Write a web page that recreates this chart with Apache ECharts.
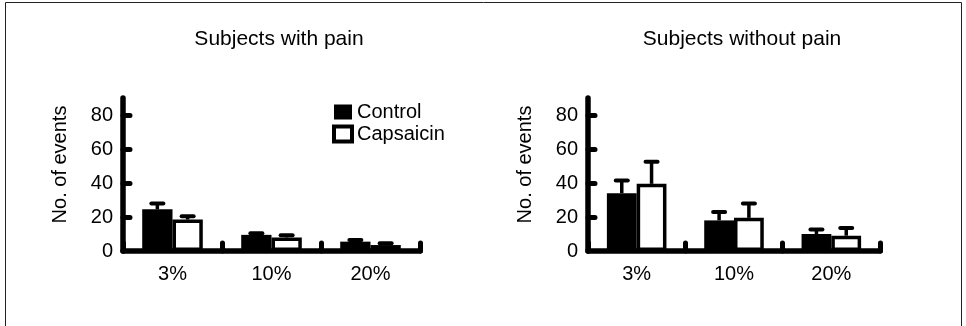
<!DOCTYPE html>
<html>
<head>
<meta charset="utf-8">
<script src="https://cdn.jsdelivr.net/npm/echarts@6/dist/echarts.min.js"></script>
<style>
  html, body { margin: 0; padding: 0; background: #fff; }
  #chart { width: 966px; height: 326px; }
</style>
</head>
<body>
<div id="chart"></div>
<script>
// Event counts by stimulus level, mean with upward SEM bars
const categories = ['3%', '10%', '20%'];
const panelTitles = ['Subjects with pain', 'Subjects without pain'];
const seriesNames = ['Control', 'Capsaicin'];
const yTickValues = [0, 20, 40, 60, 80];
const yMinorTicks = [20, 40, 60, 80];
const yAxisTitle = 'No. of events';

// Subjects with pain
const painControl = [24.5, 9.5, 5.5];
const painControlErr = [3.5, 1, 1];
const painCapsaicin = [18.5, 8, 3.5];
const painCapsaicinErr = [2, 1.2, 1];

// Subjects without pain
const noPainControl = [34, 18, 10];
const noPainControlErr = [7.5, 5, 2.7];
const noPainCapsaicin = [39.5, 19.5, 9];
const noPainCapsaicinErr = [13, 8.5, 4.5];

const FONT = 'Liberation Sans, Arial, Helvetica, sans-serif';
const INK = '#000';
const BAR_FRACTION = 0.306;   // each bar's share of a category band
const AXIS_W = 5.5;

const panels = [
  { title: panelTitles[0], control: painControl, controlErr: painControlErr,
    caps: painCapsaicin, capsErr: painCapsaicinErr,
    grid: { left: 123, top: 98, width: 297, height: 153 }, titleX: 279 },
  { title: panelTitles[1], control: noPainControl, controlErr: noPainControlErr,
    caps: noPainCapsaicin, capsErr: noPainCapsaicinErr,
    grid: { left: 588, top: 98, width: 292, height: 153 }, titleX: 742 }
];

function errorBarSeries(idx, means, errs, side, name) {
  return {
    type: 'custom',
    name: name + ' SEM',
    xAxisIndex: idx,
    yAxisIndex: idx,
    z: 3,
    silent: true,
    data: means.map((m, i) => [i, m, m + errs[i]]),
    encode: { x: 0, y: [1, 2] },
    renderItem(params, api) {
      const base = api.coord([api.value(0), api.value(1)]);
      const top = api.coord([api.value(0), api.value(2)]);
      const band = api.size([1, 0])[0];
      const x = base[0] + side * band * BAR_FRACTION / 2;
      return {
        type: 'group',
        children: [
          { type: 'line', shape: { x1: x, y1: base[1], x2: x, y2: top[1] },
            style: { stroke: INK, lineWidth: 3.5 } },
          { type: 'line', shape: { x1: x - 6, y1: top[1], x2: x + 6, y2: top[1] },
            style: { stroke: INK, lineWidth: 4, lineCap: 'round' } }
        ]
      };
    }
  };
}

const grids = [], xAxes = [], yAxes = [], series = [], graphics = [];

panels.forEach((p, idx) => {
  grids.push(Object.assign({ containLabel: false }, p.grid));
  xAxes.push({
    type: 'category',
    gridIndex: idx,
    data: categories,
    boundaryGap: true,
    z: 4,
    axisLine: { lineStyle: { color: INK, width: AXIS_W, cap: 'round' } },
    axisTick: { show: true, interval: 0, inside: true, length: 8, alignWithLabel: false,
      lineStyle: { color: INK, width: 5, cap: 'round' } },
    axisLabel: { color: INK, fontSize: 20, fontFamily: FONT, margin: 13, interval: 0 },
    splitLine: { show: false }
  });
  yAxes.push({
    type: 'value',
    gridIndex: idx,
    min: 0,
    max: 90,
    interval: 20,
    z: 4,
    name: yAxisTitle,
    nameLocation: 'middle',
    nameGap: 53,
    nameTextStyle: { color: INK, fontSize: 20, fontFamily: FONT, padding: [0, 0, 0, 20] },
    axisLine: { show: true, lineStyle: { color: INK, width: AXIS_W, cap: 'round' } },
    axisTick: { show: true, inside: true, length: 7, customValues: yMinorTicks,
      lineStyle: { color: INK, width: 5, cap: 'round' } },
    axisLabel: { color: INK, fontSize: 20, fontFamily: FONT, margin: 10, customValues: yTickValues },
    splitLine: { show: false }
  });
  series.push({
    type: 'bar',
    name: seriesNames[0],
    xAxisIndex: idx,
    yAxisIndex: idx,
    data: p.control,
    barWidth: (BAR_FRACTION * 100) + '%',
    barGap: '0%',
    itemStyle: { color: INK },
    z: 2
  });
  series.push({
    type: 'bar',
    name: seriesNames[1],
    xAxisIndex: idx,
    yAxisIndex: idx,
    data: p.caps,
    barWidth: (BAR_FRACTION * 100) + '%',
    barGap: '0%',
    itemStyle: { color: '#fff', borderColor: INK, borderWidth: 3.5 },
    z: 2
  });
  series.push(errorBarSeries(idx, p.control, p.controlErr, -1, seriesNames[0]));
  series.push(errorBarSeries(idx, p.caps, p.capsErr, 1, seriesNames[1]));
  graphics.push({
    type: 'text',
    x: p.titleX,
    y: 29,
    style: { text: p.title, fill: INK, font: '21px ' + FONT, align: 'center', verticalAlign: 'top' }
  });
});

// thin frame around the figure
graphics.push({
  type: 'rect',
  z: -1,
  shape: { x: 5.5, y: 2.5, width: 956, height: 400 },
  style: { fill: 'none', stroke: '#222', lineWidth: 1 }
});

const chart = echarts.init(document.getElementById('chart'), null, { renderer: 'canvas' });
chart.setOption({
  animation: false,
  backgroundColor: '#fff',
  grid: grids,
  xAxis: xAxes,
  yAxis: yAxes,
  legend: {
    orient: 'vertical',
    left: 332,
    top: 102,
    padding: 0,
    itemWidth: 18,
    itemHeight: 15,
    itemGap: 2,
    selectedMode: false,
    textStyle: { color: INK, fontSize: 20, fontFamily: FONT },
    data: [
      { name: seriesNames[0], icon: 'rect', itemStyle: { color: INK, borderWidth: 0 } },
      { name: seriesNames[1], icon: 'rect', itemStyle: { color: '#fff', borderColor: INK, borderWidth: 4 } }
    ]
  },
  series: series,
  graphic: graphics
});
</script>
</body>
</html>
